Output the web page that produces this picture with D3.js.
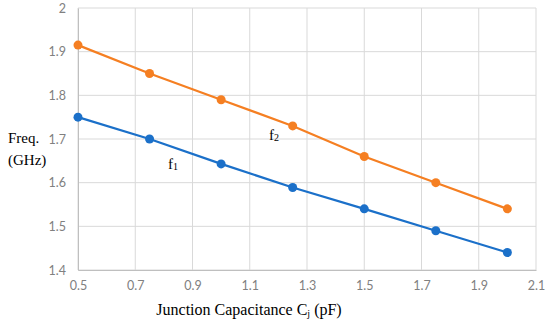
<!DOCTYPE html>
<html>
<head>
<meta charset="utf-8">
<script src="https://cdn.jsdelivr.net/npm/d3@7"></script>
<style>
  body { margin: 0; background: #fff; }
  svg { display: block; }
</style>
</head>
<body>
<div id="chart"></div>
<script>
// Chart data
const capacitance = [0.5, 0.75, 1.0, 1.25, 1.5, 1.75, 2.0];
const f1 = [1.75, 1.70, 1.643, 1.589, 1.54, 1.49, 1.44];
const f2 = [1.915, 1.85, 1.79, 1.73, 1.66, 1.60, 1.54];
const xTicks = [0.5, 0.7, 0.9, 1.1, 1.3, 1.5, 1.7, 1.9, 2.1];
const yTicks = [1.4, 1.5, 1.6, 1.7, 1.8, 1.9, 2];

const W = 550, H = 322;
const margin = { top: 8, right: 14, bottom: 52, left: 78 };
const width = W - margin.left - margin.right;
const height = H - margin.top - margin.bottom;

const svg = d3.select("#chart").append("svg")
    .attr("width", W)
    .attr("height", H);

const g = svg.append("g")
    .attr("transform", `translate(${margin.left},${margin.top})`);

const x = d3.scaleLinear().domain([0.5, 2.1]).range([0, width]);
const y = d3.scaleLinear().domain([1.4, 2]).range([height, 0]);

// Gridlines
g.append("g")
    .selectAll("line")
    .data(xTicks)
    .enter()
    .append("line")
    .attr("x1", d => x(d)).attr("x2", d => x(d))
    .attr("y1", 0).attr("y2", height)
    .attr("stroke", "#d9d9d9")
    .attr("stroke-width", 1);

g.append("g")
    .selectAll("line")
    .data(yTicks)
    .enter()
    .append("line")
    .attr("x1", 0).attr("x2", width)
    .attr("y1", d => y(d)).attr("y2", d => y(d))
    .attr("stroke", "#d9d9d9")
    .attr("stroke-width", 1);

// Axes
const xAxis = g.append("g")
    .attr("transform", `translate(0,${height})`)
    .call(d3.axisBottom(x).tickValues(xTicks).tickSize(0).tickPadding(11).tickFormat(d3.format("")));
const yAxis = g.append("g")
    .call(d3.axisLeft(y).tickValues(yTicks).tickSize(0).tickPadding(12).tickFormat(d3.format("")));

[xAxis, yAxis].forEach(a => {
    a.select(".domain").attr("stroke", "#bfbfbf");
    a.selectAll("text")
        .attr("fill", "#808080")
        .style("font-family", "Lato, 'Open Sans', sans-serif")
        .style("font-size", "12.5px");
});

// Lines and markers
const line = d3.line()
    .x((d, i) => x(capacitance[i]))
    .y(d => y(d));

const series = [
    { name: "f2", values: f2, color: "#f57f22" },
    { name: "f1", values: f1, color: "#1b70c9" }
];

series.forEach(s => {
    g.append("path")
        .datum(s.values)
        .attr("fill", "none")
        .attr("stroke", s.color)
        .attr("stroke-width", 2.2)
        .attr("d", line);

    g.selectAll(".dot-" + s.name)
        .data(s.values)
        .enter()
        .append("circle")
        .attr("cx", (d, i) => x(capacitance[i]))
        .attr("cy", d => y(d))
        .attr("r", 4.5)
        .attr("fill", s.color);
});

// Series labels
const serif = "'Liberation Serif', 'DejaVu Serif', serif";
const lab1 = svg.append("text")
    .attr("x", 168).attr("y", 169)
    .style("font-family", serif).style("font-size", "15px")
    .attr("fill", "#000");
lab1.append("tspan").text("f");
lab1.append("tspan").attr("font-size", "10px").attr("dy", 1).text("1");

const lab2 = svg.append("text")
    .attr("x", 269).attr("y", 140)
    .style("font-family", serif).style("font-size", "15px")
    .attr("fill", "#000");
lab2.append("tspan").text("f");
lab2.append("tspan").attr("font-size", "10px").attr("dy", 1).text("2");

// Axis titles
svg.append("text")
    .attr("x", 8).attr("y", 143)
    .style("font-family", serif).style("font-size", "15px")
    .text("Freq.");
svg.append("text")
    .attr("x", 8).attr("y", 165)
    .style("font-family", serif).style("font-size", "15px")
    .text("(GHz)");

const xt = svg.append("text")
    .attr("x", 249).attr("y", 315)
    .attr("text-anchor", "middle")
    .style("font-family", serif).style("font-size", "16px");
xt.append("tspan").text("Junction Capacitance C");
xt.append("tspan").attr("font-size", "10px").attr("dy", 2).text("j");
xt.append("tspan").attr("dy", -2).text(" (pF)");
</script>
</body>
</html>
